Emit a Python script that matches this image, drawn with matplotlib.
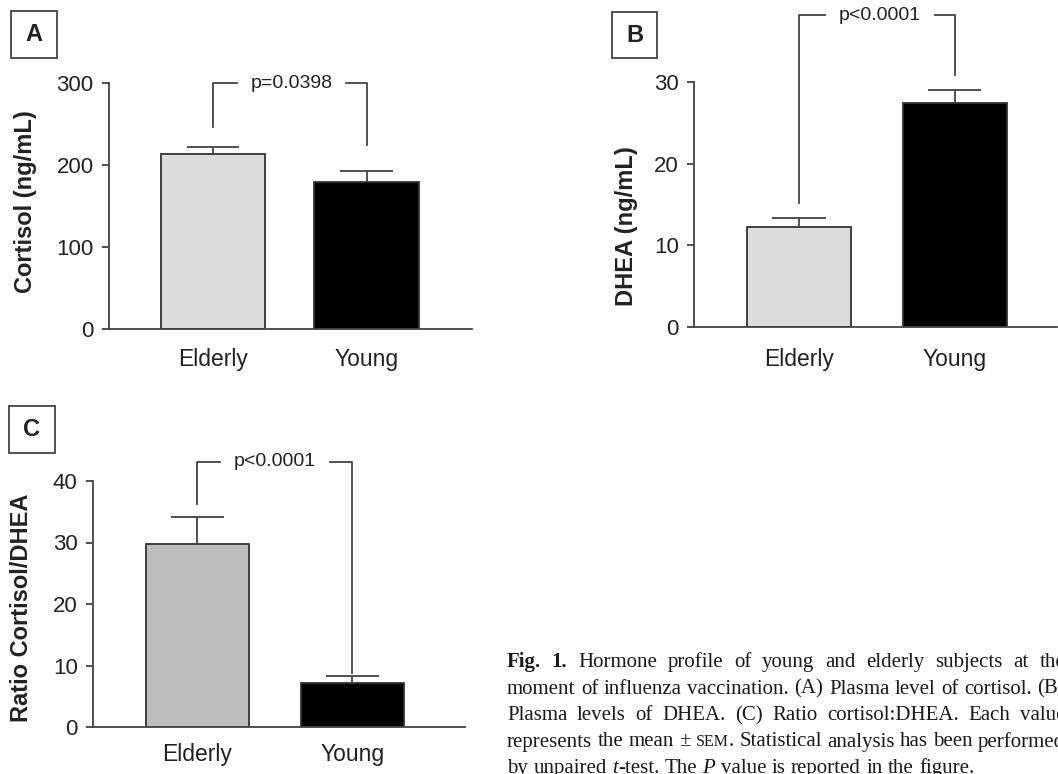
import matplotlib
matplotlib.use("Agg")
import matplotlib.pyplot as plt
from matplotlib.patches import Rectangle

# data (mean, SEM)
groups = ["Elderly", "Young"]
cortisol = [213, 179]
cortisol_sem = [9, 14]
dhea = [12.2, 27.4]
dhea_sem = [1.1, 1.6]
ratio = [29.8, 7.2]
ratio_sem = [4.3, 1.1]
p_texts = ["p=0.0398", "p<0.0001", "p<0.0001"]

W, H = 1058, 774
plt.rcParams['font.family'] = ['Liberation Sans', 'DejaVu Sans']
fig = plt.figure(figsize=(W / 100, H / 100), dpi=100)

LINE = '#444444'
TXT = '#222222'


def px_axes(left, right, top, bottom):
    return fig.add_axes([left / W, 1 - bottom / H, (right - left) / W, (bottom - top) / H])


def panel(ax, vals, errs, light, ylim, yticks, xlim, bw, ylab, lab_xy, br, ptxt, xpad):
    ax.bar([0, 1], vals, width=bw, color=[light, 'black'], edgecolor='#333333',
           linewidth=1.3, zorder=2)
    tops = [v + e for v, e in zip(vals, errs)]
    ax.vlines([0, 1], vals, tops, color=LINE, lw=1.3, zorder=3)
    ax.hlines(tops, [-0.17, 0.83], [0.17, 1.17], color=LINE, lw=1.3, zorder=3)
    ax.set_ylim(*ylim)
    ax.set_xlim(*xlim)
    ax.set_yticks(yticks)
    ax.set_xticks([0, 1])
    ax.set_xticklabels(groups, fontsize=16.5, color=TXT)
    for s in ['top', 'right']:
        ax.spines[s].set_visible(False)
    for s in ['left', 'bottom']:
        ax.spines[s].set_color(LINE)
        ax.spines[s].set_linewidth(1.3)
    ax.tick_params(axis='y', length=5, width=1.3, color=LINE, labelsize=16,
                   labelcolor=TXT, pad=6)
    ax.tick_params(axis='x', length=0, pad=xpad)
    # significance bracket
    yl, yt, yr, xa, xb = br
    ax.plot([0, 0, xa], [yl, yt, yt], color=LINE, lw=1.3, clip_on=False)
    ax.plot([xb, 1, 1], [yt, yt, yr], color=LINE, lw=1.3, clip_on=False)
    ax.text((xa + xb) / 2, yt, ptxt, ha='center', va='center', fontsize=14,
            color=TXT, clip_on=False)
    fig.text(lab_xy[0] / W, 1 - lab_xy[1] / H, ylab, rotation=90, ha='center',
             va='center', fontsize=17, fontweight='bold', color=TXT)


axA = px_axes(109, 472, 83, 329)
panel(axA, cortisol, cortisol_sem, '#dcdcdc', (0, 300), [0, 100, 200, 300],
      (-0.678, 1.687), 0.68, 'Cortisol (ng/mL)', (26, 202),
      (246, 300, 224, 0.156, 0.866), p_texts[0], 13.5)

axB = px_axes(694, 1057, 82, 327)
panel(axB, dhea, dhea_sem, '#dcdcdc', (0, 30), [0, 10, 20, 30],
      (-0.673, 1.654), 0.667, 'DHEA (ng/mL)', (627, 226),
      (15.2, 38.2, 30.8, 0.167, 0.872), p_texts[1], 15)

axC = px_axes(93, 465, 481, 727)
panel(axC, ratio, ratio_sem, '#bdbdbd', (0, 40), [0, 10, 20, 30, 40],
      (-0.674, 1.726), 0.665, 'Ratio Cortisol/DHEA', (22, 608),
      (36.3, 43.1, 8.8, 0.145, 0.855), p_texts[2], 11.5)

# panel letters in boxes
for letter, (x0, y0, x1, y1) in zip("ABC", [(11, 11, 57, 58), (612, 12, 657, 58),
                                            (9, 406, 55, 453)]):
    fig.add_artist(Rectangle((x0 / W, 1 - y1 / H), (x1 - x0) / W, (y1 - y0) / H,
                             transform=fig.transFigure, fill=False,
                             edgecolor=LINE, lw=1.3))
    fig.text((x0 + x1) / 2 / W, 1 - (y0 + y1) / 2 / H, letter, ha='center',
             va='center', fontsize=17, fontweight='bold', color=TXT)

# caption (justified, serif) - runs off the right/bottom edge like the original
N = {}
B = {'fontweight': 'bold'}
I = {'style': 'italic'}
SC = {'fontsize': 11.5}
caption = [
    [[("Fig.", B)], [("1.", B)], [("Hormone", N)], [("profile", N)], [("of", N)],
     [("young", N)], [("and", N)], [("elderly", N)], [("subjects", N)], [("at", N)],
     [("the", N)]],
    [[(w, N)] for w in "moment of influenza vaccination. (A) Plasma level of cortisol. (B)".split()],
    [[(w, N)] for w in "Plasma levels of DHEA. (C) Ratio cortisol:DHEA. Each value".split()],
    [[("represents", N)], [("the", N)], [("mean", N)], [("\u00b1", N)],
     [("SEM", SC), (".", N)], [("Statistical", N)], [("analysis", N)], [("has", N)],
     [("been", N)], [("performed", N)]],
    [[("by", N)], [("unpaired", N)], [("t", I), ("-test.", N)], [("The", N)],
     [("P", I)], [("value", N)], [("is", N)], [("reported", N)], [("in", N)],
     [("the", N)], [("figure.", N)]],
]
cap_left, cap_right = 507, 1065
base0, lead = 667, 26.5
r = fig.canvas.get_renderer()
for i, line in enumerate(caption):
    y = 1 - (base0 + lead * i) / H
    words = []
    for word in line:
        parts = []
        for s, st in word:
            kw = dict(fontsize=15, family=['Liberation Serif', 'DejaVu Serif'],
                      color='#1a1a1a', va='baseline', ha='left')
            kw.update(st)
            t = fig.text(0, y, s, **kw)
            parts.append((t, t.get_window_extent(r).width))
        words.append(parts)
    total = sum(w for parts in words for _, w in parts)
    last = i == len(caption) - 1
    gap = 5.4 if last else (cap_right - cap_left - total) / (len(words) - 1)
    x = cap_left
    for parts in words:
        for t, w in parts:
            t.set_x(x / W)
            x += w
        x += gap

fig.savefig("out.png", dpi=100)
